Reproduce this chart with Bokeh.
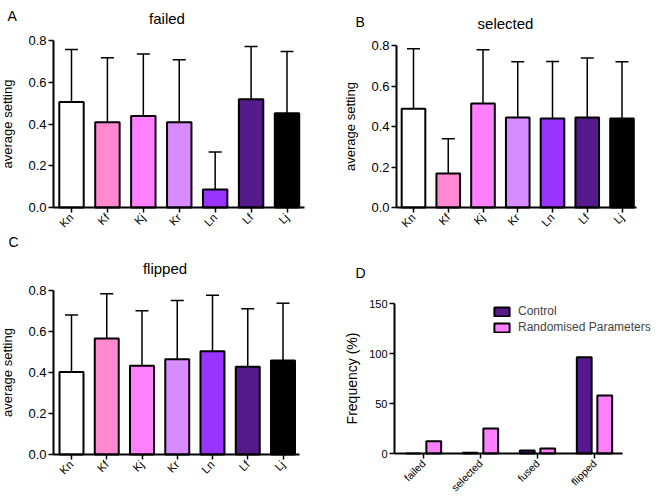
from bokeh.plotting import figure
from bokeh.layouts import column, row
from bokeh.models import (Range1d, Label, Legend, LegendItem, ColumnDataSource, FixedTicker,
                          CustomJSTickFormatter)
from bokeh.transform import dodge
from bokeh.embed import file_html
from bokeh.resources import INLINE
import math

categories = ["Kn", "Kf", "Kj", "Kr", "Ln", "Lf", "Lj"]
bar_colors = ["#FFFFFF", "#FF88D0", "#FF80FF", "#D88AFF", "#9933FF", "#551A8B", "#000000"]

failed_mean = [0.505, 0.408, 0.438, 0.408, 0.086, 0.518, 0.451]
failed_err_top = [0.757, 0.717, 0.735, 0.708, 0.266, 0.771, 0.747]

selected_mean = [0.488, 0.168, 0.513, 0.444, 0.440, 0.445, 0.440]
selected_err_top = [0.784, 0.340, 0.779, 0.720, 0.721, 0.738, 0.720]

flipped_mean = [0.403, 0.566, 0.433, 0.465, 0.504, 0.428, 0.459]
flipped_err_top = [0.681, 0.784, 0.701, 0.751, 0.777, 0.711, 0.738]

outcomes = ["failed", "selected", "fused", "flipped"]
control_freq = [0.0, 0.7, 3.0, 96.2]
randomised_freq = [12.3, 24.9, 5.0, 58.0]
y_ticks_bar = [0.0, 0.2, 0.4, 0.6, 0.8]
y_ticks_freq = [0, 50, 100, 150]

FONT = "Liberation Sans"
FIG_W, FIG_H = 330, 250


def make_fig(c0, c1, n, axis_l, axis_r, top, bottom, ymax):
    """Frame covers the whole figure; axes are drawn at fixed locations inside it."""
    sx = (c1 - c0) / (n - 1)
    x0 = -c0 / sx
    sy = (bottom - top) / ymax
    y0 = -(FIG_H - bottom) / sy
    p = figure(width=FIG_W, height=FIG_H, output_backend="svg", toolbar_location=None,
               x_range=Range1d(x0, x0 + FIG_W / sx), y_range=Range1d(y0, y0 + FIG_H / sy),
               min_border_left=0, min_border_right=0, min_border_top=0, min_border_bottom=0)
    p.grid.visible = False
    p.outline_line_color = None
    xl = (axis_l - c0) / sx
    xr = (axis_r - c0) / sx
    xa, ya = p.xaxis[0], p.yaxis[0]
    xa.fixed_location = 0
    xa.bounds = (xl, xr)
    ya.fixed_location = xl
    ya.bounds = (0, ymax)
    for ax in (xa, ya):
        ax.axis_line_width = 2
        ax.axis_line_color = "black"
        ax.major_tick_line_width = 1.5
        ax.major_tick_line_color = "black"
        ax.major_tick_in = 0
        ax.major_tick_out = 5
        ax.minor_tick_line_color = None
        ax.major_label_text_font = FONT
        ax.major_label_text_color = "black"
        ax.axis_label_text_font = FONT
        ax.axis_label_text_font_style = "normal"
        ax.axis_label_text_color = "black"
    xa.major_label_orientation = math.pi / 4
    xa.major_label_standoff = 3
    ya.major_label_standoff = 2
    return p


def add_text(p, x, y, text, size, align="left", baseline="alphabetic"):
    p.add_layout(Label(x=x, y=y, x_units="screen", y_units="screen", text=text,
                       text_font=FONT, text_font_size=size, text_align=align,
                       text_baseline=baseline, text_color="black"))


def bar_panel(means, tops, geom):
    p = make_fig(*geom, 0.8)
    src = ColumnDataSource(dict(idx=list(range(len(categories))), mean=means, top=tops, color=bar_colors))
    p.segment(x0="idx", y0="mean", x1="idx", y1="top", source=src, line_color="black", line_width=1.5)
    p.vbar(x="idx", top="mean", width=0.68, source=src, fill_color="color",
           line_color="black", line_width=2)
    p.scatter(x="idx", y="top", source=src, marker="dash", size=13, line_color="black", line_width=1.5)
    xa, ya = p.xaxis[0], p.yaxis[0]
    xa.ticker = FixedTicker(ticks=list(range(len(categories))), minor_ticks=[])
    xa.formatter = CustomJSTickFormatter(args=dict(names=categories),
                                         code="return names[Math.round(tick)];")
    xa.major_label_text_font_size = "11.5px"
    ya.ticker = FixedTicker(ticks=y_ticks_bar, minor_ticks=[])
    ya.formatter = CustomJSTickFormatter(code="return tick.toFixed(1);")
    ya.major_label_text_font_size = "13px"
    ya.axis_label = "average setting"
    ya.axis_label_text_font_size = "13px"
    ya.axis_label_standoff = 10
    return p


# geometry (figure pixels): first centre, last centre, n, axis left, axis right, y of top tick, y of zero
pA = bar_panel(failed_mean, failed_err_top, (71, 286.5, 7, 53, 304, 40, 207))
pB = bar_panel(selected_mean, selected_err_top, (83, 291.5, 7, 66, 306, 45, 207))
pC = bar_panel(flipped_mean, flipped_err_top, (71, 282.5, 7, 53, 299, 40, 204))

add_text(pA, 7, 235, "A", "14px")
add_text(pA, 166.5, 232.5, "failed", "15px", "center")
add_text(pA, 8, 1, "C", "14px", baseline="bottom")
add_text(pB, 25, 229, "B", "14px")
add_text(pB, 175, 227, "selected", "15px", "center")
add_text(pC, 164.5, 232, "flipped", "15px", "center")

# Panel D
pD = make_fig(93, 264, 4, 64, 292, 53, 203, 150)
srcD = ColumnDataSource(dict(idx=list(range(len(outcomes))), control=control_freq, rand=randomised_freq))
r1 = pD.vbar(x=dodge("idx", -0.18), top="control", width=0.26, source=srcD,
             fill_color="#551A8B", line_color="black", line_width=2)
r2 = pD.vbar(x=dodge("idx", 0.18), top="rand", width=0.26, source=srcD,
             fill_color="#FF80FF", line_color="black", line_width=2)
xa, ya = pD.xaxis[0], pD.yaxis[0]
xa.ticker = FixedTicker(ticks=list(range(len(outcomes))), minor_ticks=[])
xa.formatter = CustomJSTickFormatter(args=dict(names=outcomes), code="return names[Math.round(tick)];")
xa.major_label_text_font_size = "10.5px"
ya.ticker = FixedTicker(ticks=y_ticks_freq, minor_ticks=[])
ya.major_label_text_font_size = "11px"
ya.axis_label = "Frequency (%)"
ya.axis_label_text_font_size = "14px"
ya.axis_label_standoff = 6
leg = Legend(items=[LegendItem(label="Control", renderers=[r1]),
                    LegendItem(label="Randomised Parameters", renderers=[r2])],
             location=(162, 166), background_fill_alpha=0, border_line_color=None,
             label_text_font=FONT, label_text_font_size="12px", glyph_width=19, glyph_height=11,
             spacing=2, padding=0, margin=0, label_standoff=7, label_height=14)
pD.add_layout(leg)
add_text(pD, 25, 228, "D", "14px")

layout = column(row(pA, pB), row(pC, pD))
open("out.html", "w").write(file_html(layout, INLINE))
